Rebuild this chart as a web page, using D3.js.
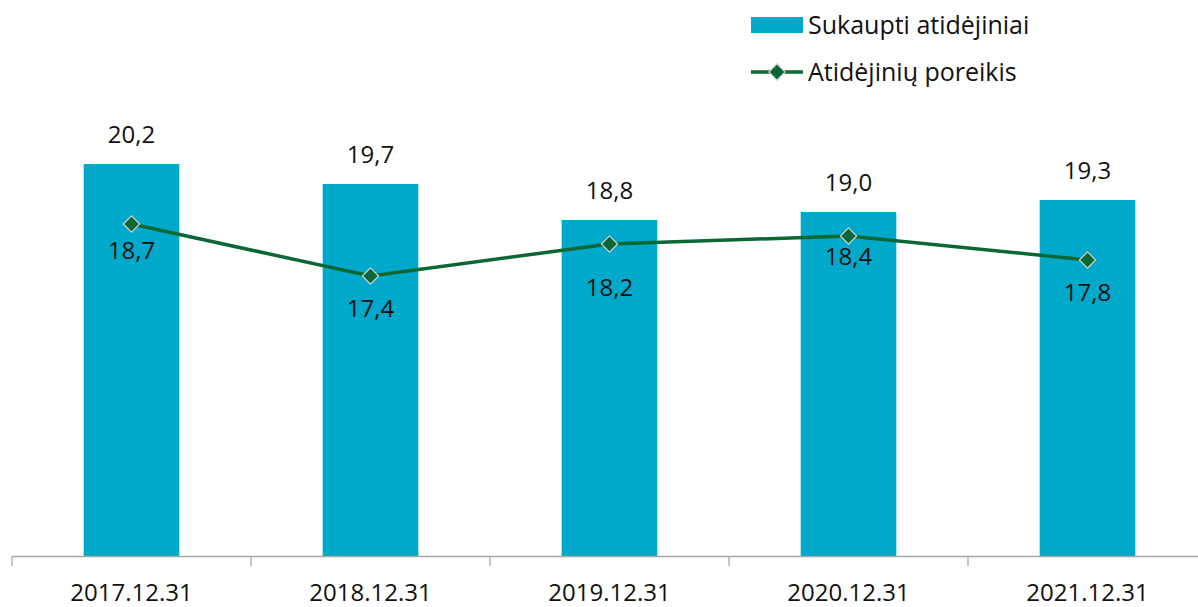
<!DOCTYPE html>
<html>
<head>
<meta charset="utf-8">
<script src="https://cdn.jsdelivr.net/npm/d3@7"></script>
<style>
  body { margin: 0; background: #fff; }
  text { font-family: "Open Sans", "Noto Sans", sans-serif; fill: #111; }
</style>
</head>
<body>
<div class="chart"></div>
<script>
var categories = ["2017.12.31", "2018.12.31", "2019.12.31", "2020.12.31", "2021.12.31"];
var sukaupti = [20.2, 19.7, 18.8, 19.0, 19.3];
var poreikis = [18.7, 17.4, 18.2, 18.4, 17.8];
var seriesNames = ["Sukaupti atidėjiniai", "Atidėjinių poreikis"];

var width = 1198, height = 607;
var barColor = "#00a9c9", lineColor = "#0b6836";
// labels under the line points were placed by hand in the original
var lineLabelDy = [35, 41, 52, 29, 41];

var fmt = d3.formatLocale({decimal: ",", thousands: " ", grouping: [3], currency: ["", ""]}).format(".1f");

var svg = d3.select(".chart").append("svg")
    .attr("width", width)
    .attr("height", height);

var scaleX = d3.scaleBand()
    .domain(categories)
    .range([12, 1207])
    .paddingInner(0.6)
    .paddingOuter(0.3);

var scaleY = d3.scaleLinear()
    .domain([10.4, 22])
    .range([556, 92]);

// bars
svg.selectAll("rect.bar")
    .data(categories)
    .enter()
    .append("rect")
    .attr("class", "bar")
    .attr("fill", barColor)
    .attr("x", d => scaleX(d))
    .attr("width", scaleX.bandwidth())
    .attr("y", (d, i) => scaleY(sukaupti[i]))
    .attr("height", (d, i) => scaleY.range()[0] - scaleY(sukaupti[i]));

svg.selectAll("text.barlabel")
    .data(categories)
    .enter()
    .append("text")
    .attr("class", "barlabel")
    .attr("x", d => scaleX(d) + scaleX.bandwidth() / 2)
    .attr("y", (d, i) => scaleY(sukaupti[i]) - 21)
    .style("text-anchor", "middle")
    .style("font-size", "24px")
    .text((d, i) => fmt(sukaupti[i]));

// x axis
var axisX = d3.axisBottom(scaleX).tickSize(0).tickPadding(28);
var gx = svg.append("g")
    .attr("transform", "translate(0," + scaleY.range()[0] + ")")
    .call(axisX);
gx.select(".domain").attr("stroke", "#a6a6a6").attr("stroke-width", 1.3);
gx.selectAll(".tick text").style("font-size", "24px").attr("fill", "#111")
    .style("font-family", "'Open Sans', 'Noto Sans', sans-serif");

var step = scaleX.step();
var tickPos = categories.map((d, i) => scaleX(d) - scaleX.paddingInner() * step / 2);
gx.selectAll("line.sep")
    .data(tickPos)
    .enter()
    .append("line")
    .attr("class", "sep")
    .attr("x1", d => d).attr("x2", d => d)
    .attr("y1", 0).attr("y2", 10)
    .attr("stroke", "#a6a6a6")
    .attr("stroke-width", 1.3);

// line
var line = d3.line()
    .x((d, i) => scaleX(categories[i]) + scaleX.bandwidth() / 2)
    .y(d => scaleY(d));

svg.append("path")
    .datum(poreikis)
    .attr("fill", "none")
    .attr("stroke", lineColor)
    .attr("stroke-width", 3.5)
    .attr("d", line);

var diamond = d3.symbol().type(d3.symbolDiamond2).size(170);

svg.selectAll("path.marker")
    .data(poreikis)
    .enter()
    .append("path")
    .attr("class", "marker")
    .attr("d", diamond)
    .attr("transform", (d, i) => "translate(" + (scaleX(categories[i]) + scaleX.bandwidth() / 2) + "," + scaleY(d) + ")")
    .attr("fill", lineColor)
    .attr("stroke", "#d0d0d0")
    .attr("stroke-width", 1.2);

svg.selectAll("text.linelabel")
    .data(poreikis)
    .enter()
    .append("text")
    .attr("class", "linelabel")
    .attr("x", (d, i) => scaleX(categories[i]) + scaleX.bandwidth() / 2)
    .attr("y", (d, i) => scaleY(d) + lineLabelDy[i])
    .style("text-anchor", "middle")
    .style("font-size", "24px")
    .text(d => fmt(d));

// legend
var legend = svg.append("g").attr("transform", "translate(751,0)");
legend.append("rect")
    .attr("x", 0).attr("y", 17)
    .attr("width", 52).attr("height", 16)
    .attr("fill", barColor);
legend.append("text")
    .attr("x", 57).attr("y", 34)
    .style("font-size", "25px")
    .text(seriesNames[0]);
legend.append("line")
    .attr("x1", 0).attr("x2", 52)
    .attr("y1", 72).attr("y2", 72)
    .attr("stroke", lineColor)
    .attr("stroke-width", 3.5);
legend.append("path")
    .attr("d", diamond)
    .attr("transform", "translate(26,72)")
    .attr("fill", lineColor)
    .attr("stroke", "#d0d0d0")
    .attr("stroke-width", 1.2);
legend.append("text")
    .attr("x", 57).attr("y", 81)
    .style("font-size", "25px")
    .text(seriesNames[1]);
</script>
</body>
</html>
